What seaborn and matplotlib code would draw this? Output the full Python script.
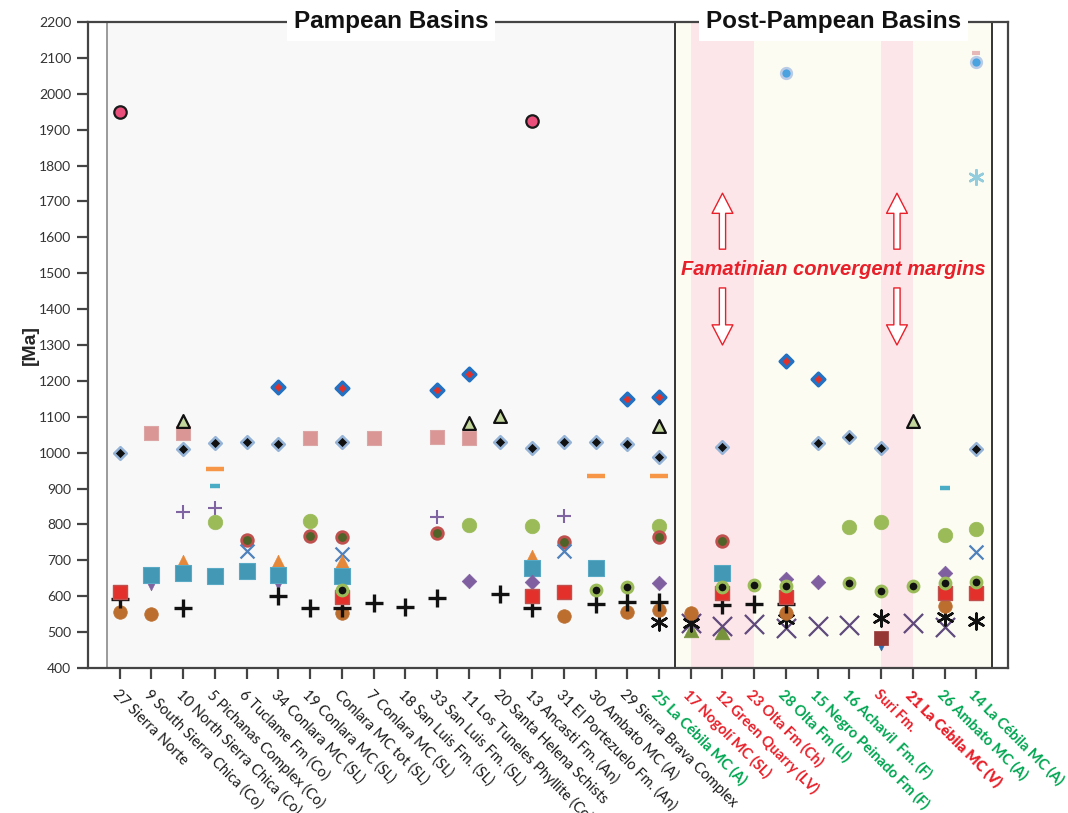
import numpy as np
import pandas as pd
import matplotlib
matplotlib.use("Agg")
import matplotlib.pyplot as plt
from matplotlib.patches import Rectangle, FancyArrowPatch
import seaborn as sns

sns.set_theme(style="white")
plt.rcParams["font.family"] = ["Lato", "DejaVu Sans"]

# ---- categories (basins / units) ----
categories = [
    "27 Sierra Norte", "9 South Sierra Chica (Co)", "10 North Sierra Chica (Co)",
    "5 Pichanas Complex (Co)", "6 Tuclame Fm (Co)", "34 Conlara MC (SL)",
    "19 Conlara MC (SL)", "Conlara MC tot (SL)", "7 Conlara MC (SL)",
    "18 San Luis Fm. (SL)", "33 San Luis Fm. (SL)", "11 Los Tuneles Phyllite (Co)",
    "20 Santa Helena Schists", "13 Ancasti Fm. (An)", "31 El Portezuelo Fm. (An)",
    "30 Ambato MC (A)", "29 Sierra Brava Complex", "25 La Cébila MC (A)",
    "17 Nogolí MC (SL)", "12 Green Quarry (LV)", "23 Olta Fm (Ch)",
    "28 Olta Fm (Ll)", "15 Negro Peinado Fm (F)", "16 Achavil  Fm. (F)",
    "Suri Fm.", "21 La Cébila MC (V)", "26 Ambato MC (A)", "14 La Cébila MC (A)",
]
label_colors = (["#1a1a1a"] * 17 + ["#00a651"] + ["#e8202a"] * 3 + ["#00a651"] * 3
                + ["#e8202a", "#e8202a", "#00a651", "#00a651"])

# ---- age peaks [Ma], keyed by category index ----
pink_circle = {0: 1950, 13: 1924}
lightblue_circle = {21: 2058, 27: 2088}
pink_dash = {27: 2114}
lightblue_star = {27: 1768}
blue_red_diamond = {5: 1184, 7: 1181, 10: 1176, 11: 1218, 16: 1149, 17: 1154,
                    21: 1256, 22: 1205}
black_diamond = {0: 1000, 2: 1010, 3: 1026, 4: 1029, 5: 1023, 7: 1029, 12: 1031,
                 13: 1012, 14: 1029, 15: 1031, 16: 1023, 17: 987, 19: 1017,
                 22: 1028, 23: 1044, 24: 1012, 27: 1009}
rose_square = {1: 1054, 2: 1055, 6: 1040, 8: 1042, 10: 1044, 11: 1042}
lightgreen_triangle = {2: 1089, 11: 1084, 12: 1102, 17: 1074, 25: 1089}
orange_dash = {3: 954, 15: 936, 17: 936}
cyan_dash = {3: 908, 26: 902}
purple_plus = {2: 835, 3: 846, 10: 822, 14: 823}
green_circle = {3: 806, 6: 810, 11: 798, 13: 796, 17: 796, 23: 794, 24: 808,
                26: 770, 27: 787}
olive_red_circle = {4: 757, 6: 768, 7: 764, 10: 775, 14: 752, 17: 766, 19: 755}
blue_x = {4: 726, 7: 719, 14: 726, 27: 722}
orange_triangle = {2: 692, 5: 693, 7: 693, 13: 706}
teal_square = {1: 659, 2: 666, 3: 657, 4: 671, 5: 659, 7: 657, 13: 679, 15: 680,
               19: 666}
purple_triangle_down = {1: 636, 5: 640, 7: 636, 19: 643}
purple_diamond = {11: 643, 13: 640, 17: 636, 21: 647, 22: 640, 26: 664}
black_green_circle = {7: 617, 15: 617, 16: 625, 19: 627, 20: 630, 21: 628,
                      23: 636, 24: 615, 25: 629, 26: 636, 27: 641}
brown_circle = {0: 557, 1: 550, 7: 552, 14: 546, 16: 555, 17: 562, 18: 552,
                21: 552, 26: 574}
black_plus = {0: 591, 2: 566, 5: 601, 6: 566, 7: 566, 8: 582, 9: 571, 10: 595,
              12: 606, 13: 568, 15: 577, 16: 583, 17: 585, 19: 575, 20: 578,
              21: 578}
red_square = {0: 613, 7: 599, 13: 601, 14: 611, 19: 610, 21: 599, 26: 610,
              27: 610}
black_star = {17: 529, 18: 526, 21: 536, 24: 538, 26: 541, 27: 532}
purple_x = {18: 524, 19: 517, 20: 522, 21: 511, 22: 517, 23: 520, 25: 524,
            26: 515}
olive_triangle = {18: 506, 19: 501}
darkred_square = {24: 483}
blue_triangle_down = {24: 464}

# ---- marker styling for each population (drawing order) ----
ASTER = (6, 2, 0)
styles = [
    (lightblue_circle, dict(marker="o", s=60, color="#4aa3df", edgecolor="#b9cbe6", linewidth=1.8)),
    (pink_dash, dict(marker="_", s=40, color="#e6b9b8", linewidth=3)),
    (lightblue_star, dict(marker=ASTER, s=110, color="#93cddd", linewidth=1.8)),
    (pink_circle, dict(marker="o", s=80, color="#ea4f7c", edgecolor="#1a1a1a", linewidth=1.6)),
    (rose_square, dict(marker="s", s=105, color="#d99694", edgecolor="#dba6a5", linewidth=0.8)),
    (black_diamond, dict(marker="D", s=42, color="#111111", edgecolor="#95b3d7", linewidth=1.8)),
    (blue_red_diamond, dict(marker="D", s=42, color="#e0302a", edgecolor="#2271c3", linewidth=2.4)),
    (lightgreen_triangle, dict(marker="^", s=85, color="#c3d69b", edgecolor="#111111", linewidth=1.6)),
    (orange_dash, dict(marker="_", s=150, color="#f79646", linewidth=3.2)),
    (cyan_dash, dict(marker="_", s=45, color="#4bacc6", linewidth=3.2)),
    (purple_plus, dict(marker="+", s=110, color="#8064a2", linewidth=1.5)),
    (green_circle, dict(marker="o", s=110, color="#9bbb59", edgecolor="#9bbb59", linewidth=0.5)),
    (olive_red_circle, dict(marker="o", s=70, color="#4f6228", edgecolor="#c0504d", linewidth=2.0)),
    (blue_x, dict(marker="x", s=100, color="#4f81bd", linewidth=1.6)),
    (purple_triangle_down, dict(marker="v", s=110, color="#8064a2", edgecolor="#8064a2", linewidth=0.5)),
    (orange_triangle, dict(marker="^", s=140, color="#e6883a", edgecolor="#e6883a", linewidth=0.5)),
    (teal_square, dict(marker="s", s=120, color="#4298b5", edgecolor="#5aa9c4", linewidth=0.8)),
    (purple_diamond, dict(marker="D", s=55, color="#7f5f9f", edgecolor="#7f5f9f", linewidth=0.5)),
    (olive_triangle, dict(marker="^", s=110, color="#77933c", edgecolor="#77933c", linewidth=0.5)),
    (purple_x, dict(marker="x", s=190, color="#604a7b", linewidth=1.6)),
    (black_star, dict(marker=ASTER, s=130, color="#111111", linewidth=1.8)),
    (brown_circle, dict(marker="o", s=95, color="#bb6e2e", edgecolor="#bb6e2e", linewidth=0.5)),
    (black_plus, dict(marker="+", s=150, color="#111111", linewidth=2.4)),
    (red_square, dict(marker="s", s=110, color="#e3302a", edgecolor="#c0504d", linewidth=1.0)),
    (black_green_circle, dict(marker="o", s=60, color="#111111", edgecolor="#9bbb59", linewidth=2.2)),
    (blue_triangle_down, dict(marker="v", s=60, color="#2f6db3", edgecolor="#2f6db3", linewidth=0.5)),
    (darkred_square, dict(marker="s", s=110, color="#953735", edgecolor="#953735", linewidth=0.5)),
]

fig = plt.figure(figsize=(10.68, 8.13), dpi=100)
ax = fig.add_axes([88 / 1068, 1 - 668 / 813, 920 / 1068, 646 / 813])

YMIN, YMAX = 400, 2200
PAMPEAN = (-0.4, 17.5)
POST = (17.5, 27.5)

# basin backgrounds and Famatinian margin bands
ax.add_patch(Rectangle((PAMPEAN[0], YMIN), PAMPEAN[1] - PAMPEAN[0], YMAX - YMIN,
                       facecolor="#f8f8f8", edgecolor="none", zorder=0))
ax.add_patch(Rectangle((POST[0], YMIN), POST[1] - POST[0], YMAX - YMIN,
                       facecolor="#fcfcf3", edgecolor="none", zorder=0))
for x0, x1 in [(18, 20), (24, 25)]:
    ax.add_patch(Rectangle((x0, YMIN), x1 - x0, YMAX - YMIN,
                           facecolor="#fde6e9", edgecolor="none", zorder=0.5))
ax.axvline(PAMPEAN[0], color="#8a8a8a", lw=1.2, zorder=1)
ax.axvline(PAMPEAN[1], color="#333333", lw=1.4, zorder=1)
ax.axvline(POST[1], color="#333333", lw=1.4, zorder=1)

for values, kw in styles:
    df = pd.DataFrame({"pos": list(values.keys()), "age": list(values.values())})
    sns.scatterplot(data=df, x="pos", y="age", ax=ax, legend=False, zorder=3, **kw)

# Famatinian arrows and annotation
for xa in (19.0, 24.5):
    for tail, tip in [((xa, 1567), (xa, 1723)), ((xa, 1459), (xa, 1300))]:
        ax.add_patch(FancyArrowPatch(tail, tip, mutation_scale=1,
                                     arrowstyle="simple,head_length=14.5,head_width=15,tail_width=4.5",
                                     fc="white", ec="#e8202a", lw=1.0, shrinkA=0, shrinkB=0,
                                     zorder=2))
ax.text(22.5, 1510, "Famatinian convergent margins", ha="center", va="center",
        fontsize=14.5, fontweight="bold", fontstyle="italic", color="#e8202a",
        family=["Liberation Sans", "DejaVu Sans"], zorder=4)

for xc, title in [(sum(PAMPEAN) / 2, "Pampean Basins"), (sum(POST) / 2, "Post-Pampean Basins")]:
    ax.text(xc, YMAX, title, ha="center", va="center", fontsize=17.5, fontweight="bold",
            family=["Liberation Sans", "DejaVu Sans"], color="#111111", zorder=5,
            bbox=dict(facecolor="white", edgecolor="none", pad=5), clip_on=False)

ax.set_xlim(-1, 28)
ax.set_ylim(YMIN, YMAX)
ax.set_yticks(np.arange(YMIN, YMAX + 1, 100))
ax.set_xticks(range(len(categories)))
ax.set_xticklabels(categories, rotation=-45, ha="left", va="top",
                   rotation_mode="anchor", fontsize=10.5)
for lab, col, i in zip(ax.get_xticklabels(), label_colors, range(len(categories))):
    lab.set_color(col)
    if i >= 17:
        lab.set_fontweight("heavy" if i == 25 else "bold")
for lab in ax.get_yticklabels():
    lab.set_fontsize(10)
    lab.set_color("#333333")
ax.tick_params(axis="both", which="major", direction="out", length=8, width=1.6,
               color="#444444", left=True, bottom=True, pad=4)
ax.tick_params(axis="x", pad=6)
ax.set_xlabel("")
ax.set_ylabel("[Ma]", fontsize=14, fontweight="bold",
              family=["Liberation Sans", "DejaVu Sans"], labelpad=0)
for sp in ax.spines.values():
    sp.set_color("#444444")
    sp.set_linewidth(1.6)
    sp.set_visible(True)

fig.savefig("out.png", dpi=100, facecolor="white")
